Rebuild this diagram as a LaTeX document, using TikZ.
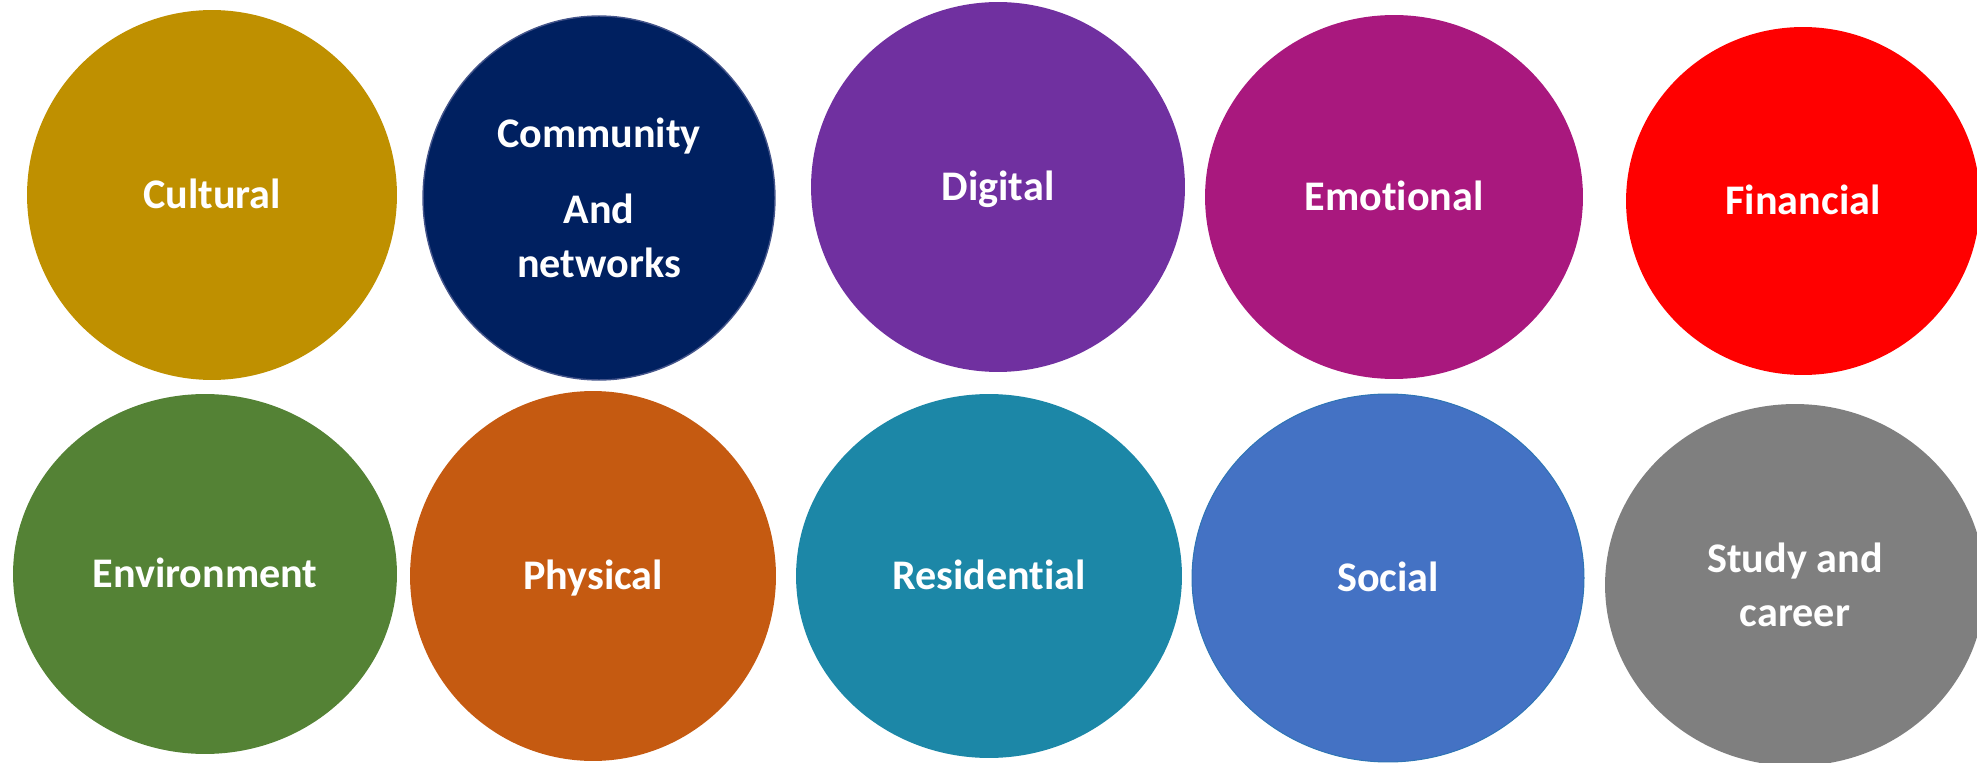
\documentclass[tikz,border=0pt]{standalone}
\usepackage{fontspec}
\setmainfont{Carlito}[Ligatures=NoCommon]
\usepackage{xcolor}
\usetikzlibrary{shapes.geometric}

\definecolor{cultural}{HTML}{BF9000}
\definecolor{community}{HTML}{002060}
\definecolor{communityrim}{HTML}{44548A}
\definecolor{digital}{HTML}{7030A0}
\definecolor{emotional}{HTML}{A9187E}
\definecolor{financial}{HTML}{FF0000}
\definecolor{environment}{HTML}{548235}
\definecolor{physical}{HTML}{C55A11}
\definecolor{residential}{HTML}{1C87A7}
\definecolor{social}{HTML}{4472C4}
\definecolor{socialrim}{HTML}{2F75B5}
\definecolor{study}{HTML}{7F7F7F}

\begin{document}
\begin{tikzpicture}[x=0.02cm, y=-0.02cm,
  bubble/.style={ellipse, inner sep=0pt, text=white, align=center,
    font=\bfseries\fontsize{24}{31}\selectfont},
  oneline/.style={text height=0.54cm, text depth=0pt}]
  % Fix the page to the size of the picture
  \useasboundingbox (0,0) rectangle (1977,763);

  % Top row of bubbles
  \node[bubble, oneline, fill=cultural, minimum width=7.40cm, minimum height=7.40cm] (cultural) at (212,195) {Cultural};
  \node[bubble, fill=community, draw=communityrim, line width=0.8pt, minimum width=7.04cm, minimum height=7.28cm] (community) at (599,198) {Community\\[0.42cm]And\\networks};
  \node[bubble, oneline, fill=digital, minimum width=7.48cm, minimum height=7.40cm] (digital) at (998,187) {Digital};
  \node[bubble, oneline, fill=emotional, minimum width=7.56cm, minimum height=7.28cm] (emotional) at (1394,197) {Emotional};
  \node[bubble, oneline, fill=financial, minimum width=7.08cm, minimum height=6.96cm] (financial) at (1803,201) {Financial};

  % Bottom row of bubbles
  \node[bubble, oneline, fill=environment, minimum width=7.68cm, minimum height=7.20cm] (environment) at (205,574) {Environment};
  \node[bubble, oneline, fill=physical, minimum width=7.32cm, minimum height=7.40cm] (physical) at (593,576) {Physical};
  \node[bubble, oneline, fill=residential, minimum width=7.72cm, minimum height=7.28cm] (residential) at (989,576) {Residential};
  \node[bubble, oneline, fill=social, draw=socialrim, line width=0.6pt, minimum width=7.84cm, minimum height=7.36cm] (social) at (1388,578) {Social};
  \node[bubble, fill=study, minimum width=7.60cm, minimum height=7.24cm] (study) at (1795,585) {Study and\\career};
\end{tikzpicture}
\end{document}
